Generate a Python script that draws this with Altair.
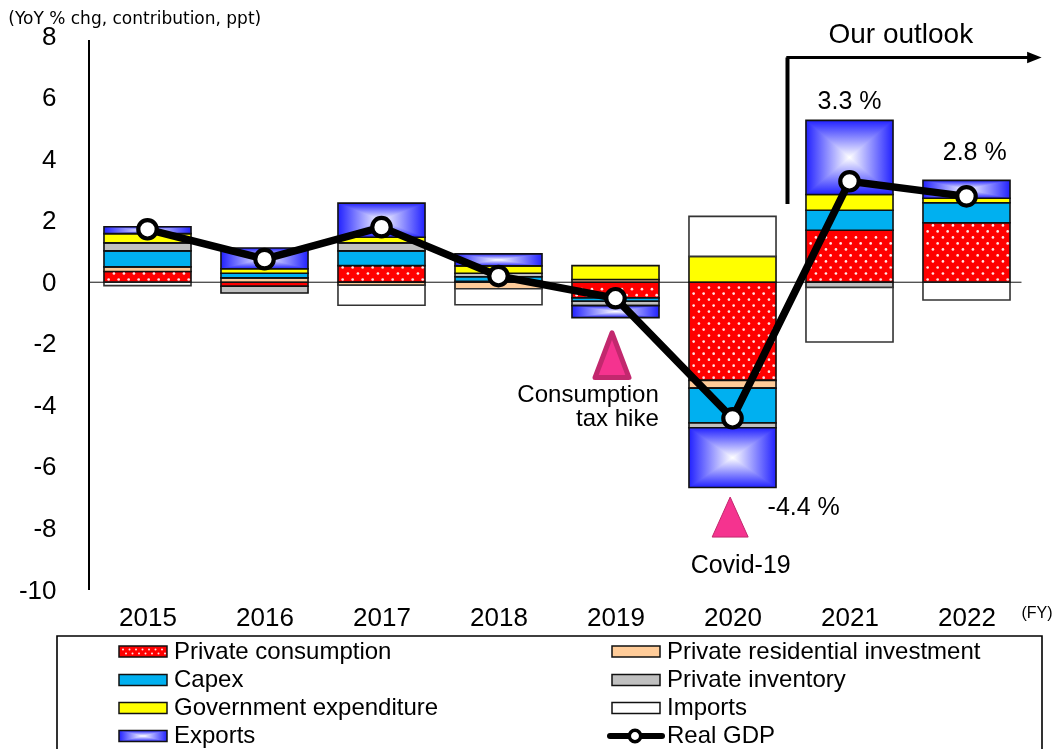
import altair as alt
import pandas as pd

years = [2015, 2016, 2017, 2018, 2019, 2020, 2021, 2022]
series_names = ["Private consumption", "Private residential investment", "Capex", "Private inventory",
                "Government expenditure", "Imports", "Exports"]
consumption = [0.35, -0.13, 0.54, 0.03, -0.51, -3.19, 1.69, 1.93]
residential = [0.15, 0.14, -0.10, -0.21, 0.09, -0.25, 0.0, 0.0]
capex = [0.52, 0.15, 0.48, 0.15, -0.11, -1.13, 0.65, 0.65]
inventory = [0.26, -0.22, 0.26, 0.11, -0.14, -0.16, -0.17, 0.0]
government = [0.30, 0.15, 0.18, 0.24, 0.45, 0.84, 0.51, 0.15]
imports = [-0.11, 0.0, -0.65, -0.52, 0.0, 1.30, -1.77, -0.58]
exports = [0.22, 0.67, 1.11, 0.39, -0.39, -1.94, 2.41, 0.58]
gdp = [1.72, 0.75, 1.79, 0.20, -0.52, -4.42, 3.28, 2.79]
gdp_labels = ["", "", "", "", "", "-4.4 %", "3.3 %", "2.8 %"]

series_values = [consumption, residential, capex, inventory, government, imports, exports]
BLUE = "#2222ff"
fills = ["#ff0000", "#ffcc99", "#00b0f0", "#c0c0c0", "#ffff00", "#ffffff", None]
HALF = 0.372

rows = []
for i, y in enumerate(years):
    pos = neg = 0.0
    for name, vals in zip(series_names, series_values):
        v = vals[i]
        if v == 0:
            continue
        if v > 0:
            lo, hi = pos, pos + v
            pos = hi
        else:
            lo, hi = neg, neg + v
            neg = hi
        rows.append(dict(year=y, left=y - HALF, right=y + HALF, series=name, y0=lo, y1=hi))
stack = pd.DataFrame(rows)

dots = []
for _, r in stack[stack.series == series_names[0]].iterrows():
    low, high = sorted([r.y0, r.y1])
    k = 0
    yy = low + 0.09
    while yy < high - 0.05:
        xx = r.left + (0.085 if k % 2 else 0.04)
        while xx < r.right - 0.02:
            dots.append(dict(x=xx, y=yy))
            xx += 0.0855
        yy += 0.195
        k += 1
dots = pd.DataFrame(dots)

x_scale = alt.Scale(domain=[2014.5, 2022.5], nice=False, zero=False)
y_scale = alt.Scale(domain=[-10, 8], nice=False, zero=False)
X = alt.X("left:Q", scale=x_scale, axis=alt.Axis(values=years, format="d", title=None, grid=False, domain=False,
                                                 ticks=False, labelFontSize=26, labelColor="black",
                                                 labelFont="Liberation Sans", labelPadding=14, labelFlush=False,
                                                 labelOverlap=False))
Y = alt.Y("y0:Q", scale=y_scale, axis=alt.Axis(values=list(range(-10, 9, 2)), title=None, grid=False, domain=False,
                                               ticks=False, labelFontSize=26, labelColor="black",
                                               labelExpr="toString(datum.value)",
                                               labelFont="Liberation Sans", labelPadding=33))


def bar_layer(name, fill, stroke="#111111"):
    d = stack[stack.series == name]
    return alt.Chart(d).mark_rect(fill=fill, stroke=stroke, strokeWidth=1.6).encode(
        x=X, x2="right:Q", y=Y, y2="y1:Q")


H_GRAD = dict(gradient="linear", x1=0, x2=1, y1=0, y2=0,
              stops=[dict(offset=0, color=BLUE), dict(offset=0.5, color="#ffffff"), dict(offset=1, color=BLUE)])
V_GRAD = dict(gradient="linear", x1=0, x2=0, y1=0, y2=1,
              stops=[dict(offset=0, color=BLUE), dict(offset=0.5, color="#ffffff"), dict(offset=1, color=BLUE)])

layers = []
for name, f in zip(series_names, fills):
    if f is not None:
        layers.append(bar_layer(name, f, "#333333" if name == "Imports" else "#111111"))
exp_df = stack[stack.series == "Exports"]
layers.append(alt.Chart(exp_df).mark_rect(fill=H_GRAD).encode(x=X, x2="right:Q", y=Y, y2="y1:Q"))
layers.append(alt.Chart(exp_df).mark_rect(fill=V_GRAD, blend="darken").encode(x=X, x2="right:Q", y=Y, y2="y1:Q"))
layers.append(alt.Chart(exp_df).mark_rect(fillOpacity=0, stroke="#111111", strokeWidth=1.6).encode(
    x=X, x2="right:Q", y=Y, y2="y1:Q"))
layers.append(alt.Chart(dots).mark_point(shape="circle", filled=True, color="#ffe6e6", size=7, opacity=1).encode(
    x=alt.X("x:Q", scale=x_scale), y=alt.Y("y:Q", scale=y_scale)))

xq = lambda f: alt.X(f, scale=x_scale)
yq = lambda f: alt.Y(f, scale=y_scale)

layers.append(alt.Chart(pd.DataFrame(dict(a=[2014.5], b=[2022.47], v=[0]))).mark_rule(color="#111111", strokeWidth=1).encode(
    x=xq("a:Q"), x2="b:Q", y=yq("v:Q")))
layers.append(alt.Chart(pd.DataFrame(dict(a=[2014.5], lo=[-10], hi=[7.87]))).mark_rule(color="black", strokeWidth=2).encode(
    x=xq("a:Q"), y=yq("lo:Q"), y2="hi:Q"))

layers.append(alt.Chart(pd.DataFrame(dict(a=[2020.47], lo=[2.54], hi=[7.3]))).mark_rule(color="black", strokeWidth=4).encode(
    x=xq("a:Q"), y=yq("lo:Q"), y2="hi:Q"))
layers.append(alt.Chart(pd.DataFrame(dict(a=[2020.46], b=[2022.53], v=[7.3]))).mark_rule(color="black", strokeWidth=3).encode(
    x=xq("a:Q"), x2="b:Q", y=yq("v:Q")))
layers.append(alt.Chart(pd.DataFrame(dict(a=[2022.58], v=[7.3]))).mark_point(
    shape="M-1,-0.8 L1,0 L-1,0.8 Z", filled=True, color="black", size=210, opacity=1).encode(x=xq("a:Q"), y=yq("v:Q")))

gdp_df = pd.DataFrame(dict(year=years, gdp=gdp))
layers.append(alt.Chart(gdp_df).mark_line(color="black", strokeWidth=7.5).encode(x=xq("year:Q"), y=yq("gdp:Q")))
layers.append(alt.Chart(gdp_df).mark_point(shape="circle", filled=True, fill="white", stroke="black", strokeWidth=4.2,
                                           size=340, opacity=1).encode(x=xq("year:Q"), y=yq("gdp:Q")))

layers.append(alt.Chart(pd.DataFrame(dict(a=[2018.97], v=[-2.37]))).mark_point(
    shape="M0,-1 L0.76,1 L-0.76,1 Z", filled=True, fill="#f5338f", stroke="#c2286e", strokeWidth=5, size=2000,
    strokeJoin="round", opacity=1).encode(x=xq("a:Q"), y=yq("v:Q")))
layers.append(alt.Chart(pd.DataFrame(dict(x=[2019.98], v=[-7.63]))).mark_point(
    shape="M0,-1 L0.9,1 L-0.9,1 Z", filled=True, fill="#f5338f", stroke="#c2286e", strokeWidth=1, size=1600,
    opacity=1).encode(x=xq("x:Q"), y=yq("v:Q")))


def note(text, x, v, size=24, align="center", font="Liberation Sans"):
    return alt.Chart(pd.DataFrame(dict(x=[x], v=[v], t=[text]))).mark_text(
        font=font, fontSize=size, color="black", align=align, baseline="alphabetic").encode(
        x=xq("x:Q"), y=yq("v:Q"), text="t:N")


layers += [
    note("Consumption", 2019.37, -3.89, align="right"),
    note("tax hike", 2019.37, -4.67, align="right"),
    note("Covid-19", 2020.07, -9.45, size=25),
    note(gdp_labels[5], 2020.3, -7.56, size=25, align="left"),
    note(gdp_labels[6], 2021.0, 5.62, size=25),
    note(gdp_labels[7], 2022.07, 3.97, size=25),
    note("Our outlook", 2020.82, 7.77, size=28, align="left"),
    note("(FY)", 2022.47, -10.9, size=16, align="left"),
    note("(YoY % chg, contribution, ppt)", 2013.81, 8.39, size=17, align="left", font="DejaVu Sans"),
]

W, H = 936, 554
LEFT, TOP, RIGHT, BOTTOM = 81, 28, 27, 159


def px(page_x):
    return page_x - LEFT - 8


def py(page_y):
    return page_y - TOP - 8


col_x = [119, 612]
row_y = [651.5, 680, 708, 736]
legend_order = [(0, 0, series_names[0]), (1, 0, series_names[1]), (0, 1, series_names[2]), (1, 1, series_names[3]),
                (0, 2, series_names[4]), (1, 2, series_names[5]), (0, 3, series_names[6]), (1, 3, "Real GDP")]
one = pd.DataFrame(dict(a=[0]))
SW = 48
SH = 11


def rect(x, y, w, h, **mk):
    return alt.Chart(one).mark_rect(**mk).encode(x=alt.value(x), x2=alt.value(x + w), y=alt.value(y), y2=alt.value(y + h))


frame_l, frame_r, frame_t, frame_b = px(57), px(1042), py(636), py(770)
layers.append(rect(frame_l, frame_t, frame_r - frame_l, frame_b - frame_t, fill="white", stroke="black", strokeWidth=1.6))

for c, r, name in legend_order:
    x, y = px(col_x[c]), py(row_y[r])
    top = y - SH / 2
    if name == "Real GDP":
        layers.append(alt.Chart(one).mark_rule(color="black", strokeWidth=6, strokeCap="round").encode(
            x=alt.value(x - 2), x2=alt.value(x + 50), y=alt.value(y)))
        layers.append(alt.Chart(one).mark_point(shape="circle", filled=True, fill="white", stroke="black", strokeWidth=3.5,
                                                size=130, opacity=1).encode(x=alt.value(x + 23), y=alt.value(y)))
    elif name == "Exports":
        layers.append(rect(x, top, SW, SH, fill=H_GRAD))
        layers.append(rect(x, top, SW, SH, fill=V_GRAD, blend="darken"))
        layers.append(rect(x, top, SW, SH, fillOpacity=0, stroke="#111111", strokeWidth=1.5))
    else:
        layers.append(rect(x, top, SW, SH, fill=fills[series_names.index(name)], stroke="#111111", strokeWidth=1.5))
        if name == series_names[0]:
            for j in range(2):
                for i in range(7):
                    layers.append(alt.Chart(one).mark_point(shape="circle", filled=True, color="#ffe6e6", size=4, opacity=1).encode(
                        x=alt.value(x + 4 + i * 6.5 + 3 * j), y=alt.value(top + 3.5 + j * 4)))
    layers.append(alt.Chart(pd.DataFrame(dict(t=[name]))).mark_text(
        font="Liberation Sans", fontSize=24, color="black", align="left", baseline="middle").encode(
        x=alt.value(x + 55), y=alt.value(y), text="t:N"))

chart = alt.layer(*layers).properties(
    width=W, height=H,
    padding=dict(left=LEFT, top=TOP, right=RIGHT, bottom=BOTTOM),
    autosize=alt.AutoSizeParams(type="none", contains="content"),
    background="white",
).configure_view(stroke=None)

chart.save("out.html", embed_options={"renderer": "svg", "actions": False})
